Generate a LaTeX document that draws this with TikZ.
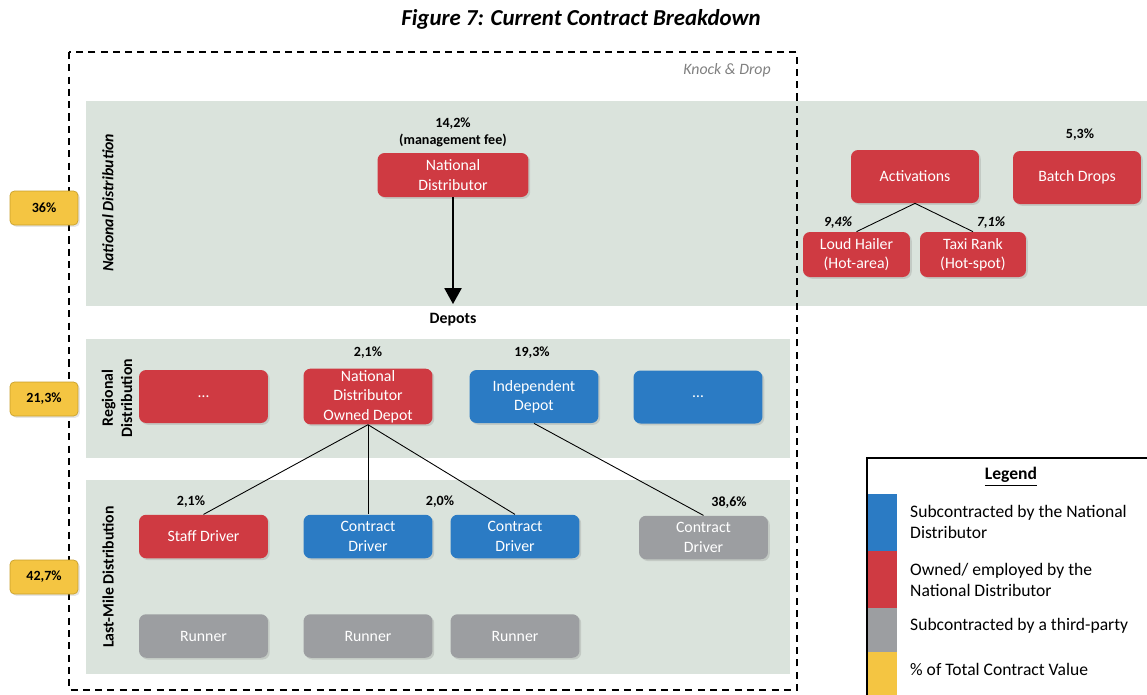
\documentclass[tikz,border=0pt]{standalone}
\usepackage{fontspec}
\setmainfont{Carlito}
\usepackage{xcolor}
\usetikzlibrary{arrows.meta, positioning, shadows}

\definecolor{bandgreen}{HTML}{DAE3DC}
\definecolor{ownred}{HTML}{CF3A42}
\definecolor{subblue}{HTML}{2B7BC4}
\definecolor{thirdgrey}{HTML}{9C9EA1}
\definecolor{tabyellow}{HTML}{F4C542}
\definecolor{tabedge}{HTML}{C8A02A}

\begin{document}
\begin{tikzpicture}[
                x = 0.02cm, y = -0.02cm,
                box/.style = {
                    rectangle,
                    rounded corners = 4pt,
                    text            = white,
                    align           = center,
                    inner sep       = 1pt,
                    font            = \small,
                    drop shadow     = {opacity=0.25, shadow xshift=1pt, shadow yshift=-1pt}
                },
                redbox/.style   = {box, fill = ownred},
                bluebox/.style  = {box, fill = subblue},
                greybox/.style  = {box, fill = thirdgrey},
                depotsize/.style  = {minimum width = 2.58cm, minimum height = 1.06cm},
                driversize/.style = {minimum width = 2.58cm, minimum height = 0.87cm},
                pct/.style     = {font = \footnotesize\bfseries, align = center},
                tab/.style = {
                    rectangle,
                    rounded corners = 2.5pt,
                    fill            = tabyellow,
                    draw            = tabedge,
                    minimum width   = 1.36cm,
                    minimum height  = 0.68cm,
                    font            = \footnotesize\bfseries,
                    drop shadow     = {opacity=0.2, shadow xshift=1pt, shadow yshift=-1pt}
                },
                band/.style    = {fill = bandgreen},
                sidelabel/.style = {rotate = 90, align = center, font = \small\bfseries},
                legtext/.style = {anchor = west, align = left, font = \normalsize},
                bigarrow/.style = {-{Triangle[width=9.7pt, length=9pt]}, line width = 1pt},
                link/.style    = {line width = 0.5pt}
            ]

                \clip (0, 0) rectangle (1147, 694);

                \node[font = \fontsize{13}{15}\selectfont\bfseries\itshape] (title) at (581, 19) {Figure 7: Current Contract Breakdown};

                \fill[band] (86, 101) rectangle (1147, 306);
                \fill[band] (86, 339) rectangle (790, 458);
                \fill[band] (86, 480) rectangle (790, 674);

                \draw[dashed, dash pattern = on 4pt off 3pt, line width = 0.8pt] (69, 52) rectangle (797, 690);
                \node[font = \small\itshape, text = gray] (knock) at (727, 70) {Knock \& Drop};

                \node[sidelabel, font = \small\bfseries\itshape] (natlabel) at (108, 203) {National Distribution};
                \node[sidelabel] (reglabel) at (117, 398) {Regional\\Distribution};
                \node[sidelabel] (lastlabel) at (108, 577) {Last-Mile Distribution};

                \node[tab] (tabnat) at (44, 208) {36\%};
                \node[tab] (tabreg) at (44, 399) {21,3\%};
                \node[tab] (tablast) at (44, 577) {42,7\%};

                \node[redbox, minimum width = 3.02cm, minimum height = 0.88cm] (nd) at (453, 175) {National\\Distributor};
                \node[pct, font = \footnotesize\bfseries] (ndpct) at (453, 132) {14,2\%\\(management fee)};
                \coordinate (ndtip) at (453, 304);
                \draw[bigarrow] (nd) -- (ndtip);
                \node[font = \small\bfseries] (depots) at (453, 320) {Depots};

                \node[redbox, depotsize] (regdots) at (203.5, 396.5) {\dots};
                \node[redbox, depotsize] (owndepot) at (368, 396.5) {National\\Distributor\\Owned Depot};
                \node[bluebox, depotsize] (inddepot) at (534, 396.5) {Independent\\Depot};
                \node[bluebox, depotsize] (subdots) at (698, 397) {\dots};
                \node[pct] (owndepotpct) at (368, 353) {2,1\%};
                \node[pct] (inddepotpct) at (532, 353) {19,3\%};

                \node[redbox, driversize] (staff) at (203.5, 536.5) {Staff Driver};
                \node[bluebox, driversize] (contracta) at (368, 536.5) {Contract\\Driver};
                \node[bluebox, driversize] (contractb) at (515, 536.5) {Contract\\Driver};
                \node[greybox, driversize] (contractc) at (703.5, 537.5) {Contract\\Driver};
                \node[pct] (staffpct) at (191, 502) {2,1\%};
                \node[pct] (contractpct) at (440, 502) {2,0\%};
                \node[pct] (contractcpct) at (729, 503) {38,6\%};

                \node[greybox, driversize] (runnera) at (203.5, 636) {Runner};
                \node[greybox, driversize] (runnerb) at (368, 636) {Runner};
                \node[greybox, driversize] (runnerc) at (515, 636) {Runner};

                \draw[link] (owndepot.south) -- (staff.north);
                \draw[link] (owndepot.south) -- (contracta.north);
                \draw[link] (owndepot.south) -- (contractb.north);
                \draw[link] (inddepot.south) -- (contractc.north);

                \node[redbox, minimum width = 2.56cm, minimum height = 1.06cm] (activ) at (915, 176.5) {Activations};
                \node[redbox, minimum width = 2.56cm, minimum height = 1.06cm] (batch) at (1077, 177.5) {Batch Drops};
                \node[pct] (batchpct) at (1080, 135) {5,3\%};
                \node[redbox, minimum width = 2.14cm, minimum height = 0.9cm] (hailer) at (856.5, 254.5) {Loud Hailer\\(Hot-area)};
                \node[redbox, minimum width = 2.12cm, minimum height = 0.9cm] (taxi) at (973, 254.5) {Taxi Rank\\(Hot-spot)};
                \node[pct, font = \footnotesize\bfseries\itshape] (hailerpct) at (838, 223) {9,4\%};
                \node[pct, font = \footnotesize\bfseries\itshape] (taxipct) at (991, 223) {7,1\%};
                \draw[link] (activ.south) -- (hailer.north);
                \draw[link] (activ.south) -- (taxi.north);

                \draw[line width = 1pt] (867, 458) rectangle (1160, 710);
                \node[font = \normalsize\bfseries] (legtitle) at (1011, 477) {\underline{Legend}};
                \fill[subblue] (868, 494) rectangle (897, 551);
                \fill[ownred] (868, 551) rectangle (897, 608);
                \fill[thirdgrey] (868, 608) rectangle (897, 652);
                \fill[tabyellow] (868, 652) rectangle (897, 710);
                \node[legtext] (legblue) at (904, 522) {Subcontracted by the National\\Distributor};
                \node[legtext] (legred) at (904, 580) {Owned/ employed by the\\National Distributor};
                \node[legtext] (leggrey) at (904, 626) {Subcontracted by a third-party};
                \node[legtext] (legyellow) at (904, 669) {\% of Total Contract Value};
            \end{tikzpicture}
\end{document}
